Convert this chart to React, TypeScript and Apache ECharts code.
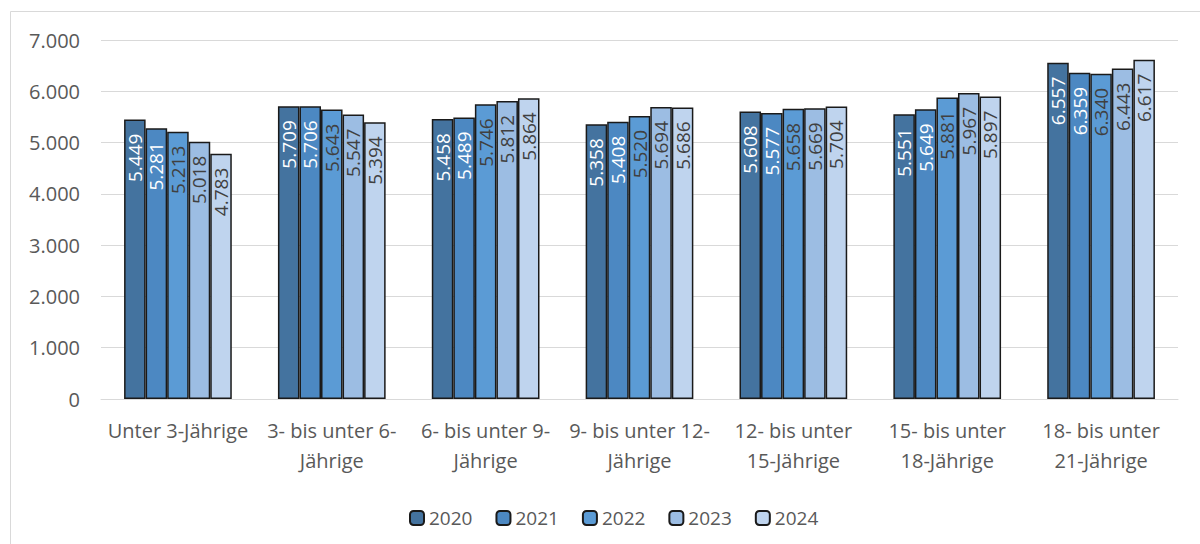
import React, { useEffect, useRef } from "react";
import * as echarts from "echarts";

const categories = [
  "Unter 3-Jährige",
  "3- bis unter 6-\nJährige",
  "6- bis unter 9-\nJährige",
  "9- bis unter 12-\nJährige",
  "12- bis unter\n15-Jährige",
  "15- bis unter\n18-Jährige",
  "18- bis unter\n21-Jährige",
];

const years = ["2020", "2021", "2022", "2023", "2024"];

const values2020 = [5449, 5709, 5458, 5358, 5608, 5551, 6557];
const values2021 = [5281, 5706, 5489, 5408, 5577, 5649, 6359];
const values2022 = [5213, 5643, 5746, 5520, 5658, 5881, 6340];
const values2023 = [5018, 5547, 5812, 5694, 5669, 5967, 6443];
const values2024 = [4783, 5394, 5864, 5686, 5704, 5897, 6617];

const seriesValues = [values2020, values2021, values2022, values2023, values2024];
const colors = ["#44739F", "#4C88C2", "#5B9BD5", "#9CBDE3", "#BFD4EE"];
const labelColors = ["#ffffff", "#ffffff", "#404040", "#404040", "#404040"];

const fmt = (v: number) => {
  const s = String(Math.round(v));
  return s.replace(/\B(?=(\d{3})+(?!\d))/g, ".");
};

const FONT = "'Open Sans', 'DejaVu Sans', sans-serif";

export default function App() {
  const ref = useRef<HTMLDivElement>(null);
  useEffect(() => {
    if (!ref.current) return;
    const chart = echarts.init(ref.current, null, { renderer: "svg" });
    chart.setOption({
      animation: false,
      backgroundColor: "#ffffff",
      textStyle: { fontFamily: FONT },
      graphic: [
        {
          type: "rect",
          shape: { x: 10.5, y: 11.5, width: 1200, height: 600 },
          style: { fill: "none", stroke: "#d9d9d9", lineWidth: 1 },
          silent: true,
        },
      ],
      grid: { left: 101, right: 22, top: 40, bottom: 145, containLabel: false },
      legend: {
        left: 404,
        top: 502,
        itemWidth: 14,
        itemHeight: 14,
        itemGap: 23,
        data: years,
        textStyle: { fontFamily: FONT, fontSize: 19, lineHeight: 22, color: "#595959" },
      },
      xAxis: {
        type: "category",
        data: categories,
        axisLine: { show: true, lineStyle: { color: "#d9d9d9", width: 1 } },
        axisTick: { show: false },
        axisLabel: {
          interval: 0,
          margin: 16,
          fontFamily: FONT,
          fontSize: 20,
          color: "#595959",
          lineHeight: 30,
        },
      },
      yAxis: {
        type: "value",
        min: 0,
        max: 7000,
        interval: 1000,
        axisLine: { show: false },
        axisTick: { show: false },
        splitLine: { lineStyle: { color: "#d9d9d9", width: 1 } },
        axisLabel: {
          margin: 21,
          fontFamily: FONT,
          fontSize: 20,
          color: "#595959",
          formatter: (v: number) => fmt(v),
        },
      },
      series: years.map((y, i) => ({
        name: y,
        type: "bar",
        data: seriesValues[i],
        barGap: "0%",
        barCategoryGap: "30%",
        itemStyle: { color: colors[i], borderColor: "#1a1a1a", borderWidth: 1.5 },
        label: {
          show: true,
          position: "insideTop",
          rotate: 90,
          align: "right",
          verticalAlign: "middle",
          distance: 14,
          fontFamily: FONT,
          fontSize: 19,
          color: labelColors[i],
          formatter: (p: any) => fmt(p.value),
        },
      })),
    });
    return () => chart.dispose();
  }, []);
  return (
    <div
      ref={ref}
      style={{ position: "absolute", left: 0, top: 0, width: 1200, height: 544 }}
    />
  );
}
